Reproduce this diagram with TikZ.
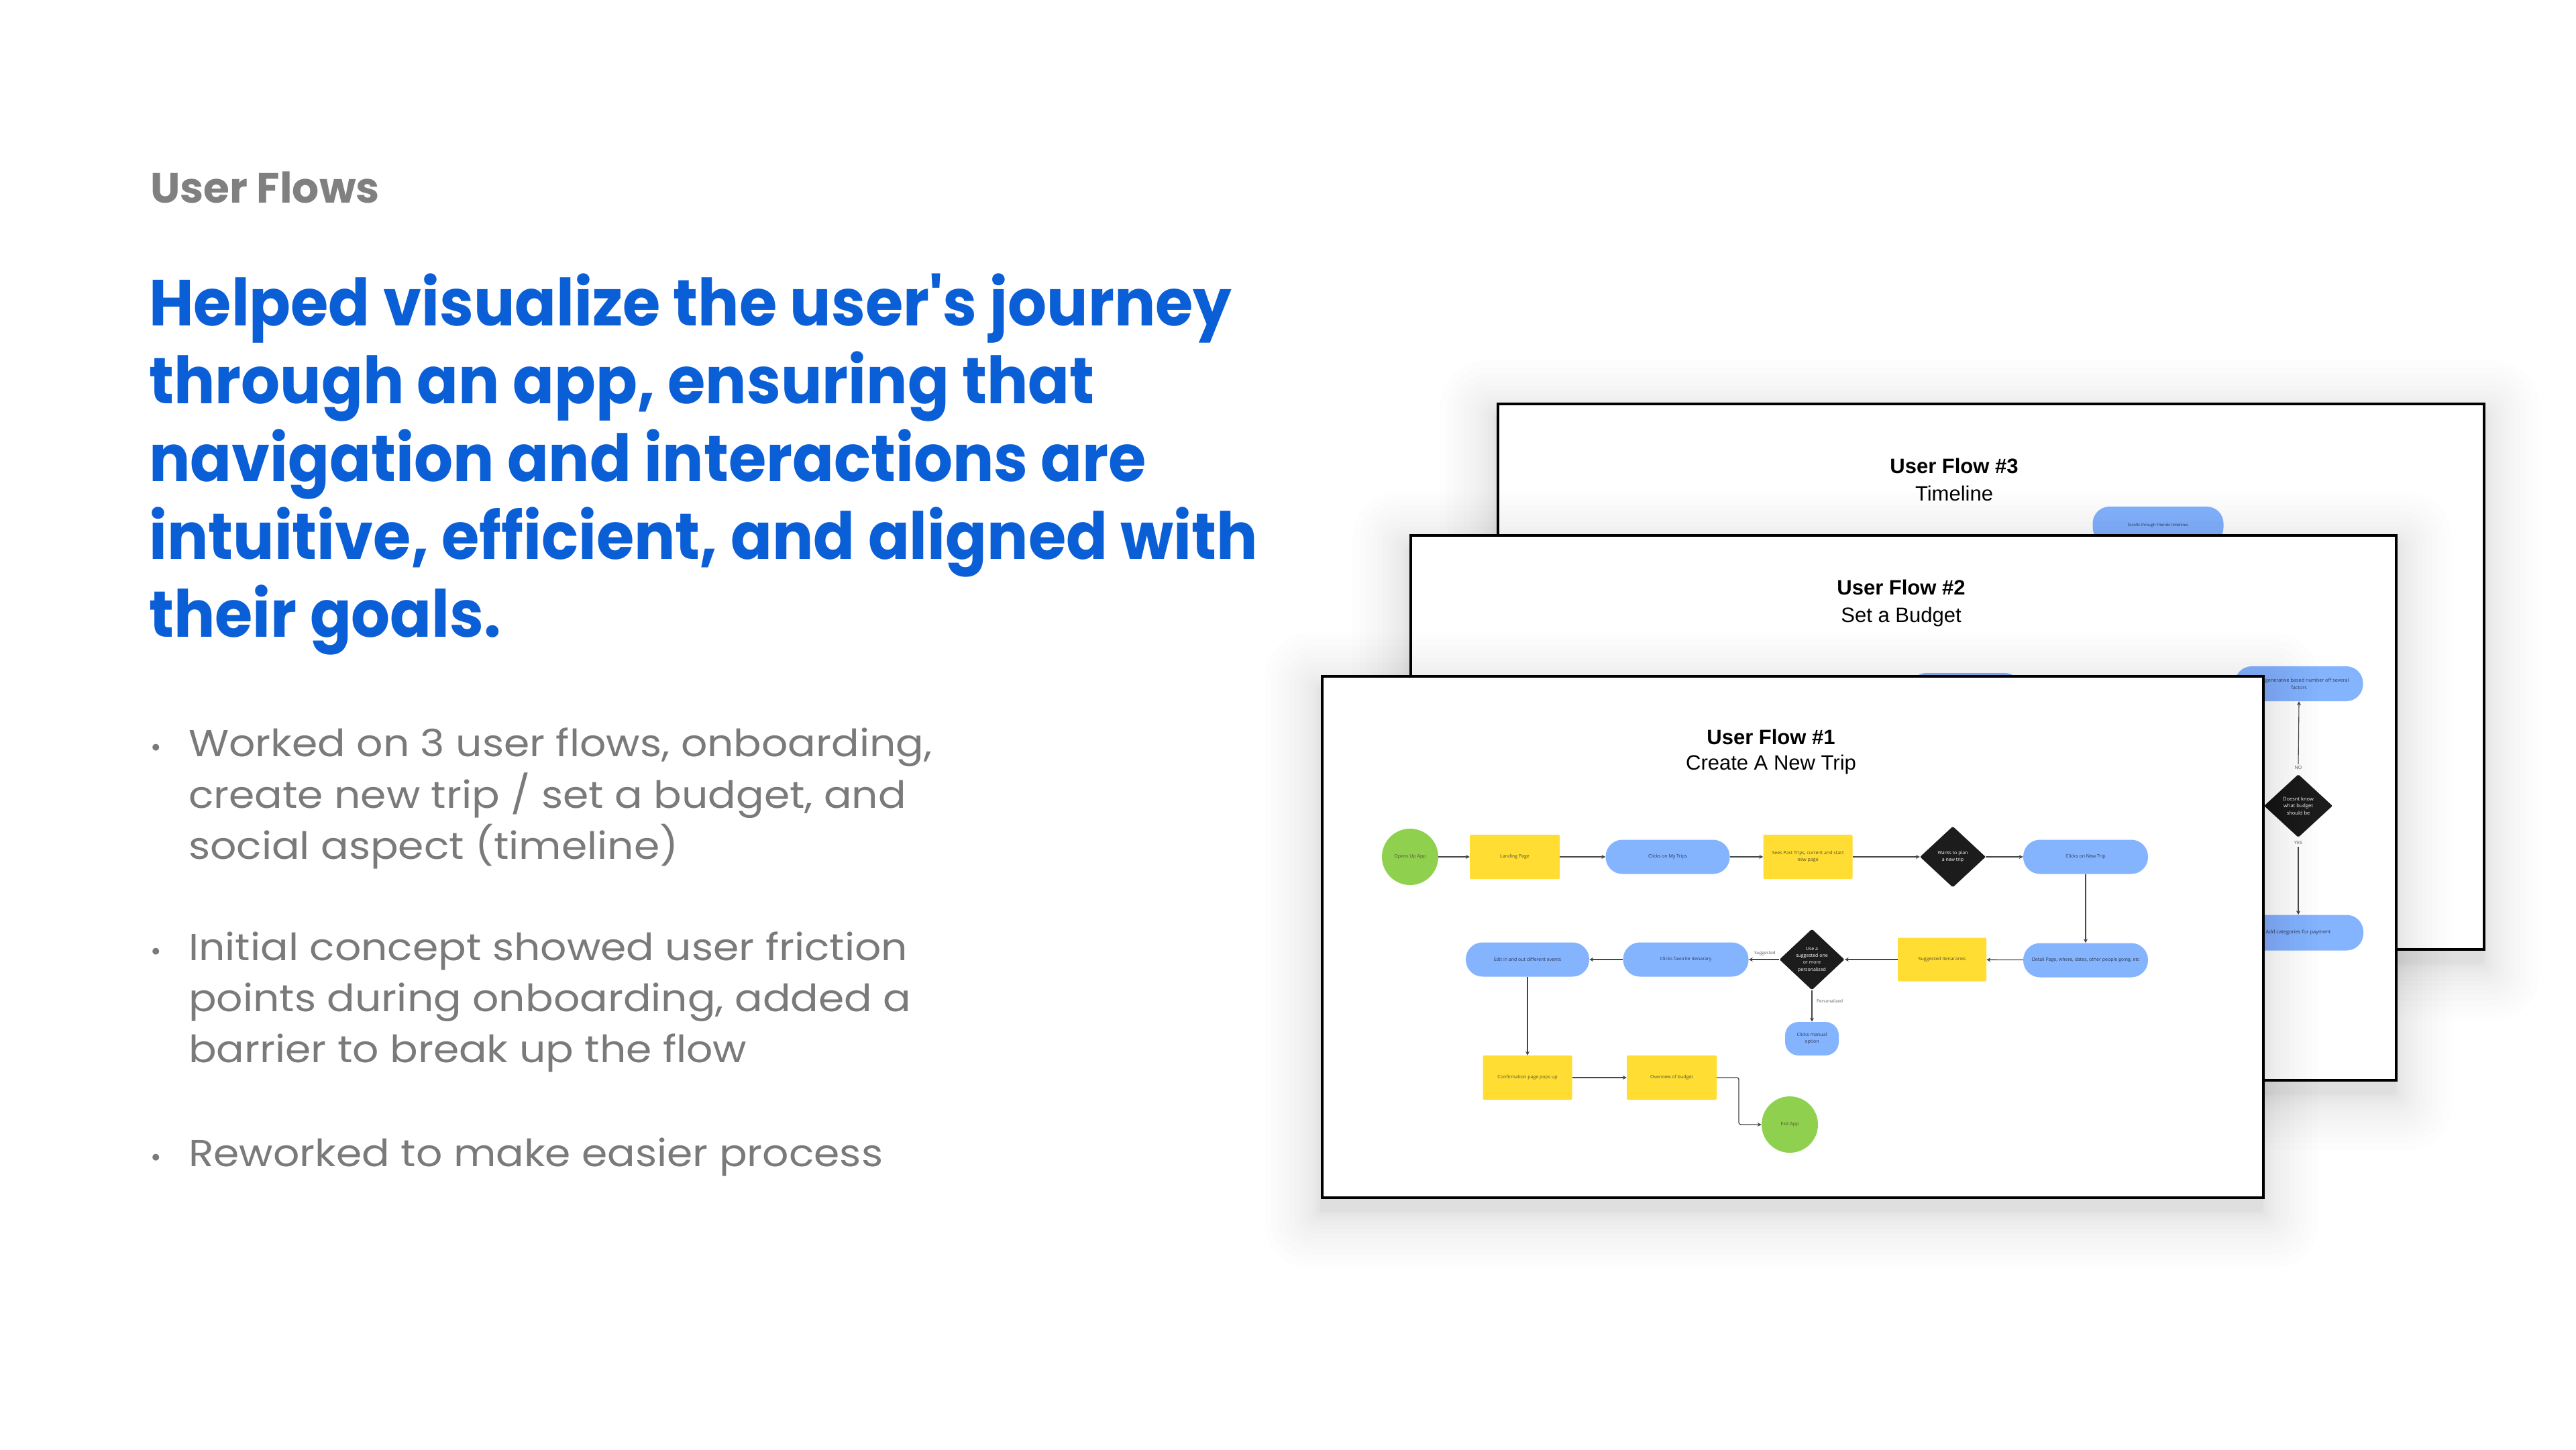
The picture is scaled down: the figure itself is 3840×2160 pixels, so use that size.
\documentclass[tikz,border=0pt]{standalone}
\usepackage{fontspec}
\setmainfont{Poppins}
\newfontfamily\pop{Poppins}
\newfontfamily\popH[FakeStretch=0.94]{Poppins}
\newfontfamily\popB[FakeStretch=1.1]{Poppins}
\newfontfamily\lib{Liberation Sans}
\newfontfamily\osans{Open Sans}
\usetikzlibrary{shapes.geometric,arrows.meta}
\definecolor{hblue}{RGB}{10,94,214}
\definecolor{tgray}{RGB}{128,128,128}
\definecolor{bgray}{RGB}{122,122,122}
\definecolor{fgreen}{RGB}{143,209,79}
\definecolor{fyellow}{RGB}{255,221,51}
\definecolor{fblue}{RGB}{133,180,255}
\definecolor{fblack}{RGB}{28,28,28}
\definecolor{navyt}{RGB}{45,55,85}
\definecolor{olivet}{RGB}{85,80,50}
\definecolor{linec}{RGB}{70,70,70}
\newcommand\softshadow[4]{%
  \foreach \k in {1,...,16}{%
    \pgfmathsetmacro\sp{0.33*\k*\k}%
    \fill[black, opacity=0.0095, rounded corners=\sp*0.8pt]
      (#1-\sp, #2-\sp+22) rectangle (#3+\sp, #4+\sp+22);}}
\begin{document}
\begin{tikzpicture}[x=1pt,y=-1pt,
  frame/.style={draw=black, line width=3.5pt, fill=white, inner sep=0pt, anchor=north west},
  ttlb/.style={font=\lib\bfseries\fontsize{31}{36}\selectfont, anchor=base, inner sep=0pt},
  ttlr/.style={font=\lib\fontsize{31}{36}\selectfont, anchor=base, inner sep=0pt},
  ftxt/.style={font=\osans\fontsize{7}{10.3}\selectfont, align=center, inner sep=0pt},
  gcirc/.style={ftxt, circle, fill=fgreen, minimum size=84pt, text=olivet},
  yrect/.style={ftxt, rectangle, fill=fyellow, rounded corners=2pt, minimum width=134pt, minimum height=66pt, text=olivet},
  bpill/.style={ftxt, rectangle, fill=fblue, rounded corners=25pt, minimum width=186pt, minimum height=51pt, text=navyt},
  dia/.style={ftxt, diamond, fill=fblack, rounded corners=2pt, minimum width=98pt, minimum height=91pt, text=white},
  conn/.style={draw=linec, line width=1.3pt, -{Stealth[length=6pt,width=6pt]}},
  lbl/.style={font=\osans\fontsize{6.5}{8}\selectfont, text=black!65, inner sep=0pt},
  headl/.style={font=\popH\bfseries\fontsize{97}{116}\selectfont, text=hblue, anchor=base west, inner sep=0pt},
  bodyl/.style={font=\popB\fontsize{56}{76}\selectfont, text=bgray, anchor=base west, inner sep=0pt},
  dotl/.style={font=\pop\fontsize{40}{40}\selectfont, text=bgray, anchor=base, inner sep=0pt}
]
\useasboundingbox (0,0) rectangle (3840,2160);
\fill[white] (0,0) rectangle (3840,2160);

% ---------- left text ----------
\node[font=\pop\bfseries\fontsize{63}{70}\selectfont, text=tgray, anchor=base west, inner sep=0pt] (uf) at (224,302) {User Flows};
\node[headl] (h1) at (222,485) {Helped visualize the user's journey};
\node[headl] (h2) at (222,601) {through an app, ensuring that};
\node[headl] (h3) at (222,717) {navigation and interactions are};
\node[headl] (h4) at (222,833) {intuitive, efficient, and aligned with};
\node[headl] (h5) at (222,949) {their goals.};

\node[dotl] (d1dot) at (233,1127) {•};
\node[bodyl] (b1a) at (281,1127) {Worked on 3 user flows, onboarding,};
\node[bodyl] (b1b) at (281,1204) {create new trip / set a budget, and};
\node[bodyl] (b1c) at (281,1280) {social aspect (timeline)};
\node[dotl] (d2dot) at (233,1431) {•};
\node[bodyl] (b2a) at (281,1431) {Initial concept showed user friction};
\node[bodyl] (b2b) at (281,1507) {points during onboarding, added a};
\node[bodyl] (b2c) at (281,1583) {barrier to break up the flow};
\node[dotl] (d3dot) at (233,1738) {•};
\node[bodyl] (b3a) at (281,1738) {Reworked to make easier process};

% ---------- frame 3 ----------
\softshadow{2231}{600}{3701}{1413}
\node[frame, minimum width=1470pt, minimum height=813pt] (fr3) at (2231,600) {};
\node[ttlb] (t3a) at (2913,705) {User Flow \#3};
\node[ttlr] (t3b) at (2913,746) {Timeline};
\node[bpill, minimum width=195pt, minimum height=56pt, font=\osans\fontsize{6}{8}\selectfont] (scroll) at (3217,783) {Scrolls through friends timelines};

% ---------- frame 2 ----------
\softshadow{2101}{796}{3570}{1608}
\node[frame, minimum width=1469pt, minimum height=812pt] (fr2) at (2101,796) {};
\node[ttlb] (t2a) at (2834,886) {User Flow \#2};
\node[ttlr] (t2b) at (2834,927) {Set a Budget};
\node[bpill, minimum width=167pt, minimum height=52pt] (f2pill) at (2930,1029) {};
\node[bpill, minimum width=191pt, minimum height=52pt, font=\osans\fontsize{7.3}{10.5}\selectfont] (gen) at (3427,1019) {Uses a generative based number off several\\factors};
\node[dia, minimum width=102pt, minimum height=94pt, font=\osans\fontsize{7.5}{10.7}\selectfont] (d3) at (3426,1201) {Doesnt know\\what budget\\should be};
\node[lbl, font=\osans\fontsize{7}{8}\selectfont] (no) at (3426,1144) {NO};
\node[lbl, font=\osans\fontsize{7}{8}\selectfont] (yes) at (3426,1256) {YES};
\node[bpill, minimum width=194pt, minimum height=53pt, font=\osans\fontsize{7.5}{10}\selectfont] (addc) at (3426,1390) {Add categories for payment};
\draw[conn, line width=1.1pt] (no.north) ++(0,-2) -- (gen.south);
\draw[conn, line width=1.1pt] (yes.south) ++(0,3) -- (addc.north);

% ---------- frame 1 ----------
\softshadow{1969}{1006}{3372}{1783}
\node[frame, minimum width=1403pt, minimum height=777pt] (fr1) at (1969,1006) {};
\node[ttlb] (t1a) at (2640,1109) {User Flow \#1};
\node[ttlr] (t1b) at (2640,1147) {Create A New Trip};

\node[gcirc] (start) at (2102,1277) {Opens Up App};
\node[yrect] (landing) at (2258,1277) {Landing Page};
\node[bpill, minimum width=185pt] (mytrips) at (2486,1277) {Clicks on My Trips};
\node[yrect, minimum width=133pt] (sees) at (2695,1277) {Sees Past Trips, current and start\\new page};
\node[dia] (wants) at (2911,1277) {Wants to plan\\a new trip};
\node[bpill] (newtrip) at (3109,1277) {Clicks on New Trip};
\node[bpill] (detail) at (3109,1431) {Detail Page, where, dates, other people going, etc};
\node[yrect, minimum width=132pt, minimum height=65pt] (sugg) at (2895,1430) {Suggested Itenararies};
\node[dia, minimum width=97pt] (usea) at (2701,1430) {Use a\\suggested one\\or more\\personalized};
\node[bpill, minimum width=187pt] (fav) at (2513,1430) {Clicks favorite Itenarary};
\node[bpill, minimum width=184pt] (edit) at (2277,1430) {Edit in and out different events};
\node[bpill, minimum width=80pt, minimum height=50pt, rounded corners=20pt] (manual) at (2701,1548) {Clicks manual\\option};
\node[yrect, minimum width=133pt] (confirm) at (2277,1606) {Confirmation page pops up};
\node[yrect] (overview) at (2492,1606) {Overview of budget};
\node[gcirc] (exit) at (2668,1676) {Exit App};
\coordinate (elb) at (2592,1606);

\draw[conn] (start) -- (landing);
\draw[conn] (landing) -- (mytrips);
\draw[conn] (mytrips) -- (sees);
\draw[conn] (sees) -- (wants);
\draw[conn] (wants) -- (newtrip);
\draw[conn] (newtrip) -- (detail);
\draw[conn] (detail) -- (sugg);
\draw[conn] (sugg) -- (usea);
\draw[conn] (usea) -- (fav);
\draw[conn] (usea) -- (manual);
\draw[conn] (fav) -- (edit);
\draw[conn] (edit) -- (confirm);
\draw[conn] (confirm) -- (overview);
\draw[conn, rounded corners=3pt] (overview.east) -- (elb) |- (exit.west);
\node[lbl] (lsugg) at (2631,1421) {Suggested};
\node[lbl, anchor=west] (lpers) at (2708,1492) {Personalized};
\end{tikzpicture}
\end{document}
